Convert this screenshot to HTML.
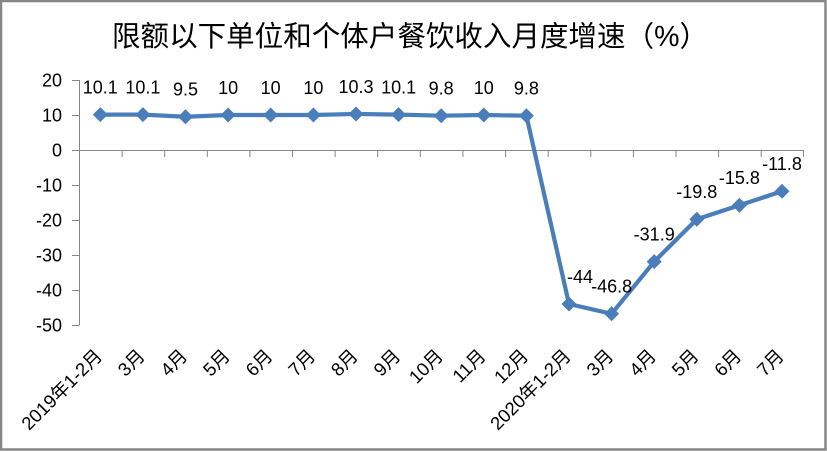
<!DOCTYPE html>
<html><head><meta charset="utf-8"><style>
html,body{margin:0;padding:0;background:#fff;}
svg{display:block;}
</style></head><body>
<svg width="827" height="452" viewBox="0 0 827 452" xmlns="http://www.w3.org/2000/svg">
<rect x="1" y="1" width="824.5" height="448.5" fill="#fff" stroke="#868686" stroke-width="2.5"/>
<text x="112" y="46" textLength="596" lengthAdjust="spacing" font-family="'Liberation Sans','Noto Sans CJK SC',sans-serif" font-size="28.5" fill="#000">限额以下单位和个体户餐饮收入月度增速（%）</text>
<g stroke="#868686" stroke-width="1" fill="none">
<line x1="79.5" y1="80" x2="79.5" y2="325"/>
<line x1="72" y1="80.5" x2="79.5" y2="80.5"/>
<line x1="72" y1="115.5" x2="79.5" y2="115.5"/>
<line x1="72" y1="150.5" x2="79.5" y2="150.5"/>
<line x1="72" y1="185.5" x2="79.5" y2="185.5"/>
<line x1="72" y1="220.5" x2="79.5" y2="220.5"/>
<line x1="72" y1="255.5" x2="79.5" y2="255.5"/>
<line x1="72" y1="290.5" x2="79.5" y2="290.5"/>
<line x1="72" y1="325.5" x2="79.5" y2="325.5"/>
<line x1="79" y1="150.5" x2="803.5" y2="150.5"/>
<line x1="79.5" y1="150" x2="79.5" y2="157"/>
<line x1="122.1" y1="150" x2="122.1" y2="157"/>
<line x1="164.7" y1="150" x2="164.7" y2="157"/>
<line x1="207.3" y1="150" x2="207.3" y2="157"/>
<line x1="249.9" y1="150" x2="249.9" y2="157"/>
<line x1="292.5" y1="150" x2="292.5" y2="157"/>
<line x1="335.1" y1="150" x2="335.1" y2="157"/>
<line x1="377.7" y1="150" x2="377.7" y2="157"/>
<line x1="420.3" y1="150" x2="420.3" y2="157"/>
<line x1="462.9" y1="150" x2="462.9" y2="157"/>
<line x1="505.6" y1="150" x2="505.6" y2="157"/>
<line x1="548.2" y1="150" x2="548.2" y2="157"/>
<line x1="590.8" y1="150" x2="590.8" y2="157"/>
<line x1="633.4" y1="150" x2="633.4" y2="157"/>
<line x1="676.0" y1="150" x2="676.0" y2="157"/>
<line x1="718.6" y1="150" x2="718.6" y2="157"/>
<line x1="761.2" y1="150" x2="761.2" y2="157"/>
<line x1="803.5" y1="150" x2="803.5" y2="157"/>
</g>
<g font-family="'Liberation Sans',sans-serif" font-size="18" fill="#000" text-anchor="end">
<text x="62" y="86.5">20</text>
<text x="62" y="121.5">10</text>
<text x="62" y="156.5">0</text>
<text x="62" y="191.5">-10</text>
<text x="62" y="226.5">-20</text>
<text x="62" y="261.5">-30</text>
<text x="62" y="296.5">-40</text>
<text x="62" y="331.5">-50</text>
</g>
<polyline fill="none" stroke="#4A7EBB" stroke-width="4.2" stroke-linejoin="round" points="100.3,114.65 142.9,114.65 185.5,116.75 228.1,115 270.7,115 313.4,115 356.0,113.95 398.6,114.65 441.2,115.7 483.8,115 526.4,115.7 569.0,304 611.6,313.8 654.2,261.65 696.8,219.3 739.4,205.3 782.0,191.3"/>
<g fill="#4A7EBB">
<polygon points="100.3,107.15 107.8,114.65 100.3,122.15 92.8,114.65"/>
<polygon points="142.9,107.15 150.4,114.65 142.9,122.15 135.4,114.65"/>
<polygon points="185.5,109.25 193.0,116.75 185.5,124.25 178.0,116.75"/>
<polygon points="228.1,107.5 235.6,115 228.1,122.5 220.6,115"/>
<polygon points="270.7,107.5 278.2,115 270.7,122.5 263.2,115"/>
<polygon points="313.4,107.5 320.9,115 313.4,122.5 305.9,115"/>
<polygon points="356.0,106.45 363.5,113.95 356.0,121.45 348.5,113.95"/>
<polygon points="398.6,107.15 406.1,114.65 398.6,122.15 391.1,114.65"/>
<polygon points="441.2,108.2 448.7,115.7 441.2,123.2 433.7,115.7"/>
<polygon points="483.8,107.5 491.3,115 483.8,122.5 476.3,115"/>
<polygon points="526.4,108.2 533.9,115.7 526.4,123.2 518.9,115.7"/>
<polygon points="569.0,296.5 576.5,304 569.0,311.5 561.5,304"/>
<polygon points="611.6,306.3 619.1,313.8 611.6,321.3 604.1,313.8"/>
<polygon points="654.2,254.15 661.7,261.65 654.2,269.15 646.7,261.65"/>
<polygon points="696.8,211.8 704.3,219.3 696.8,226.8 689.3,219.3"/>
<polygon points="739.4,197.8 746.9,205.3 739.4,212.8 731.9,205.3"/>
<polygon points="782.0,183.8 789.5,191.3 782.0,198.8 774.5,191.3"/>
</g>
<g font-family="'Liberation Sans',sans-serif" font-size="18" fill="#000" text-anchor="middle">
<text x="100.3" y="93.5">10.1</text>
<text x="142.9" y="93.5">10.1</text>
<text x="185.5" y="95.7">9.5</text>
<text x="228.1" y="94">10</text>
<text x="270.7" y="94">10</text>
<text x="313.4" y="94">10</text>
<text x="356.0" y="93">10.3</text>
<text x="398.6" y="93.5">10.1</text>
<text x="441.2" y="94.7">9.8</text>
<text x="483.8" y="94">10</text>
<text x="526.4" y="94.7">9.8</text>
<text x="580" y="283">-44</text>
<text x="611.6" y="292.5">-46.8</text>
<text x="654.2" y="240.5">-31.9</text>
<text x="696.8" y="198">-19.8</text>
<text x="739.4" y="184">-15.8</text>
<text x="782.0" y="170">-11.8</text>
</g>
<g font-family="'Liberation Sans','Noto Sans CJK SC',sans-serif" font-size="18.5" fill="#000" text-anchor="end">
<text transform="translate(103.3,357) rotate(-45)">2019年1-2月</text>
<text transform="translate(145.9,357) rotate(-45)">3月</text>
<text transform="translate(188.5,357) rotate(-45)">4月</text>
<text transform="translate(231.1,357) rotate(-45)">5月</text>
<text transform="translate(273.7,357) rotate(-45)">6月</text>
<text transform="translate(316.4,357) rotate(-45)">7月</text>
<text transform="translate(359.0,357) rotate(-45)">8月</text>
<text transform="translate(401.6,357) rotate(-45)">9月</text>
<text transform="translate(444.2,357) rotate(-45)">10月</text>
<text transform="translate(486.8,357) rotate(-45)">11月</text>
<text transform="translate(529.4,357) rotate(-45)">12月</text>
<text transform="translate(572.0,357) rotate(-45)">2020年1-2月</text>
<text transform="translate(614.6,357) rotate(-45)">3月</text>
<text transform="translate(657.2,357) rotate(-45)">4月</text>
<text transform="translate(699.8,357) rotate(-45)">5月</text>
<text transform="translate(742.4,357) rotate(-45)">6月</text>
<text transform="translate(785.0,357) rotate(-45)">7月</text>
</g>
</svg>
</body></html>
